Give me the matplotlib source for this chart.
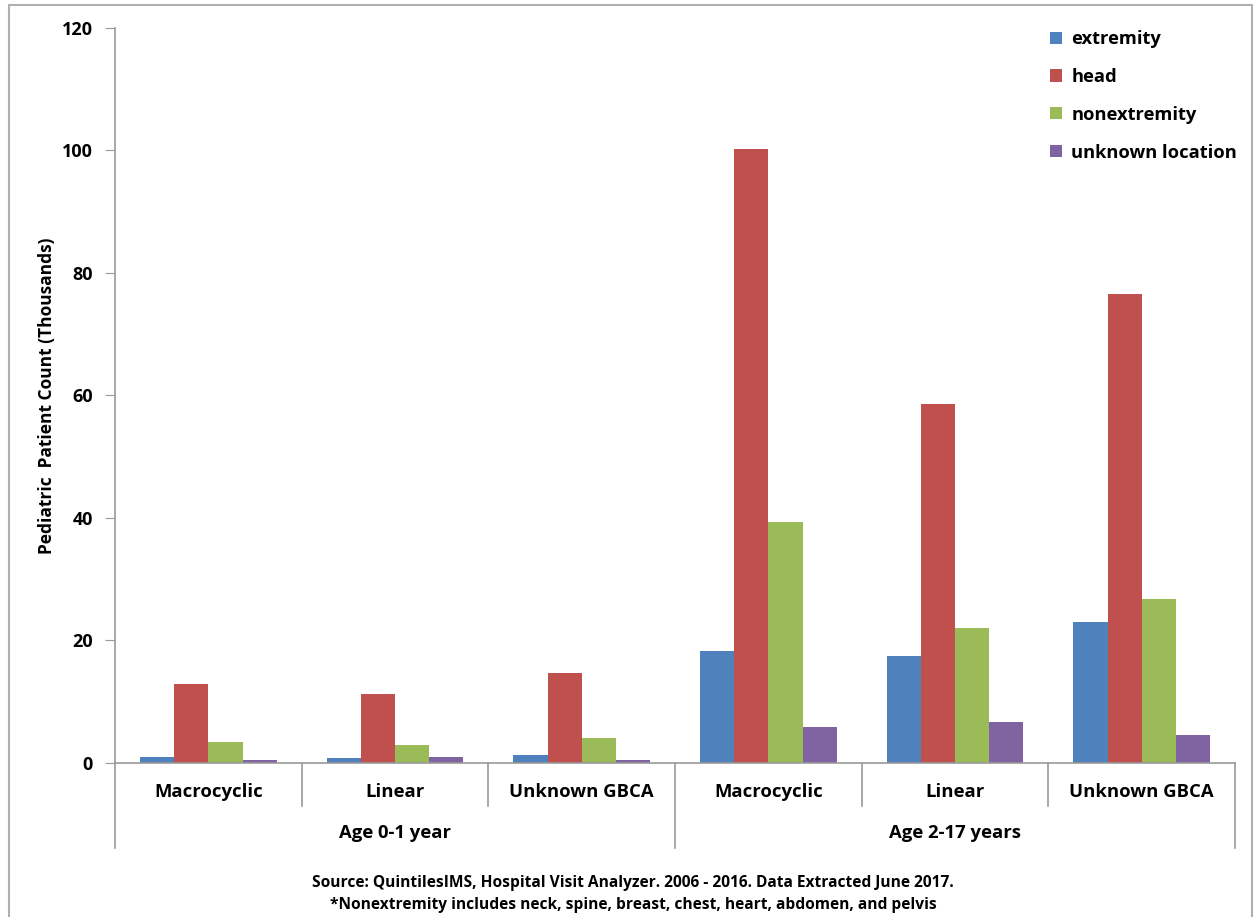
import matplotlib.pyplot as plt
import matplotlib.patches as mpatches
import numpy as np

plt.rcParams['font.family'] = ['Open Sans', 'DejaVu Sans']
plt.rcParams['font.weight'] = 'bold'
plt.rcParams['axes.labelweight'] = 'bold'

agents = ['Macrocyclic', 'Linear', 'Unknown GBCA', 'Macrocyclic', 'Linear', 'Unknown GBCA']
age_groups = ['Age 0-1 year', 'Age 2-17 years']
locations = ['extremity', 'head', 'nonextremity', 'unknown location']
colors = ['#4F81BD', '#C0504D', '#9BBB59', '#8064A2']

extremity = [1.0, 0.8, 1.3, 18.3, 17.5, 23.0]
head = [12.9, 11.2, 14.7, 100.2, 58.6, 76.6]
nonextremity = [3.4, 3.0, 4.1, 39.3, 22.1, 26.7]
unknown_location = [0.5, 1.0, 0.5, 5.9, 6.7, 4.6]
series = [extremity, head, nonextremity, unknown_location]

fig = plt.figure(figsize=(12.56, 9.17), dpi=100)
ax = fig.add_axes([0.0916, 0.168, 0.8917, 0.8015])

x = np.arange(len(agents))
width = 0.183
for i, (vals, lab, col) in enumerate(zip(series, locations, colors)):
    ax.bar(x + (i - 1.5) * width, vals, width, color=col, label=lab)

ax.set_xlim(-0.5, len(agents) - 0.5)
ax.set_ylim(0, 120)
ax.set_yticks(range(0, 121, 20))
ax.tick_params(axis='y', direction='out', length=7, color='#999999', labelsize=13, pad=9)
for t in ax.get_yticklabels():
    t.set_fontweight('bold')
ax.set_xticks([])
for s in ['top', 'right']:
    ax.spines[s].set_visible(False)
for s in ['left', 'bottom']:
    ax.spines[s].set_color('#999999')
    ax.spines[s].set_linewidth(1.2)

ax.set_ylabel('Pediatric  Patient Count (Thousands)', fontsize=12.5, fontweight='bold', labelpad=4)

# two-level category axis below the bars
trans = ax.get_xaxis_transform()
for b in np.arange(len(agents) + 1) - 0.5:
    depth = -0.1156 if b in (-0.5, 2.5, len(agents) - 0.5) else -0.0585
    ax.plot([b, b], [0, depth], transform=trans, color='#999999', lw=1.2, clip_on=False)
for xi, name in zip(x, agents):
    ax.text(xi, -0.0395, name, transform=trans, ha='center', va='center',
            fontsize=13.3, fontweight='bold')
for gi, name in enumerate(age_groups):
    ax.text(gi * 3 + 1, -0.0952, name, transform=trans, ha='center', va='center',
            fontsize=13.3, fontweight='bold')

ax.legend(loc='upper left', bbox_to_anchor=(0.8203, 1.0195), frameon=False,
          prop={'size': 13.2, 'weight': 'bold'},
          handlelength=0.65, handleheight=0.65, handletextpad=0.5, labelspacing=1.08)

fig.text(0.504, 0.037, 'Source: QuintilesIMS, Hospital Visit Analyzer. 2006 - 2016. Data Extracted June 2017.',
         ha='center', va='center', fontsize=11.2, fontweight='bold')
fig.text(0.504, 0.013, '*Nonextremity includes neck, spine, breast, chest, heart, abdomen, and pelvis',
         ha='center', va='center', fontsize=11.2, fontweight='bold')

fig.patches.append(mpatches.Rectangle((0.0072, -0.05), 0.9896, 1.0445, transform=fig.transFigure,
                                      fill=False, edgecolor='#b0b0b0', lw=1.5))

fig.savefig('out.png', dpi=100)
